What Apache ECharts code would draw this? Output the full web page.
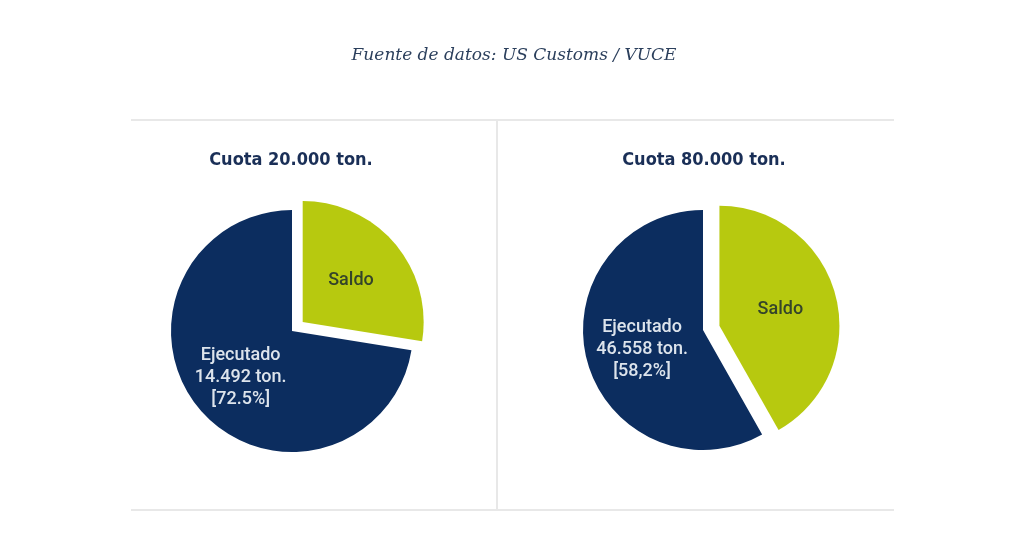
<!DOCTYPE html>
<html>
<head>
<meta charset="utf-8">
<script src="https://cdn.jsdelivr.net/npm/echarts@6/dist/echarts.min.js"></script>
<style>
html,body{margin:0;padding:0;background:#fff;}
#c{width:1024px;height:535px;}
</style>
</head>
<body>
<div id="c"></div>
<script>
// Data
const sourceNote = 'Fuente de datos: US Customs / VUCE';
const chartTitles = ['Cuota 20.000 ton.', 'Cuota 80.000 ton.'];
const sliceNames = ['Saldo', 'Ejecutado'];
const quota20Values = [5508, 14492];
const quota80Values = [33442, 46558];
const quota20PctLabel = '72.5%';
const quota80PctLabel = '58,2%';

const navy = '#0c2d5f';
const lime = '#b7c90f';

function fmtTon(v) {
  return String(v).replace(/\B(?=(\d{3})+(?!\d))/g, '.');
}

function makeData(values, pctLabel, offsets) {
  return values.map(function (v, i) {
    const isSaldo = i === 0;
    return {
      name: sliceNames[i],
      value: v,
      selected: isSaldo,
      itemStyle: { color: isSaldo ? lime : navy },
      label: isSaldo
        ? { formatter: '{b}', color: '#34442a', offset: offsets[0] }
        : { formatter: sliceNames[i] + '\n' + fmtTon(v) + ' ton.\n[' + pctLabel + ']', color: '#dde4ec', offset: offsets[1] }
    };
  });
}

const chart = echarts.init(document.getElementById('c'));
const labelFont = 'Roboto, "DejaVu Sans", sans-serif';
const titleFont = '"DejaVu Sans Condensed", "DejaVu Sans", sans-serif';

function pieSeries(center, radius, offset, values, pctLabel, labelOffsets) {
  return {
    type: 'pie',
    center: center,
    radius: radius,
    startAngle: 90,
    clockwise: true,
    selectedMode: true,
    selectedOffset: offset,
    silent: true,
    animation: false,
    label: {
      show: true,
      position: 'inside',
      fontFamily: labelFont,
      fontSize: 18,
      fontWeight: 500,
      lineHeight: 22,
      align: 'center'
    },
    labelLine: { show: false },
    itemStyle: { borderWidth: 0 },
    emphasis: { disabled: true },
    data: makeData(values, pctLabel, labelOffsets)
  };
}

chart.setOption({
  backgroundColor: '#ffffff',
  title: [
    {
      text: sourceNote,
      left: 509, top: 42, textAlign: 'center',
      textStyle: { fontFamily: '"DejaVu Serif", serif', fontStyle: 'italic', fontWeight: 'normal', fontSize: 17, color: '#2b3f5c' }
    },
    {
      text: chartTitles[0],
      left: 286, top: 146, textAlign: 'center',
      textStyle: { fontFamily: titleFont, fontWeight: 'bold', fontSize: 18, color: '#1a2f57' }
    },
    {
      text: chartTitles[1],
      left: 699, top: 146, textAlign: 'center',
      textStyle: { fontFamily: titleFont, fontWeight: 'bold', fontSize: 18, color: '#1a2f57' }
    }
  ],
  graphic: [
    { type: 'line', shape: { x1: 131, y1: 120, x2: 894, y2: 120 }, style: { stroke: '#e8e8e8', lineWidth: 2 }, silent: true },
    { type: 'line', shape: { x1: 131, y1: 510, x2: 894, y2: 510 }, style: { stroke: '#e8e8e8', lineWidth: 2 }, silent: true },
    { type: 'line', shape: { x1: 497, y1: 120, x2: 497, y2: 510 }, style: { stroke: '#e8e8e8', lineWidth: 2 }, silent: true }
  ],
  series: [
    pieSeries([292, 331], 121, 14, quota20Values, quota20PctLabel, [[3, -2], [-3, 5]]),
    pieSeries([703, 330], 120, 17, quota80Values, quota80PctLabel, [[2, 2], [0, 3]])
  ]
});
</script>
</body>
</html>
